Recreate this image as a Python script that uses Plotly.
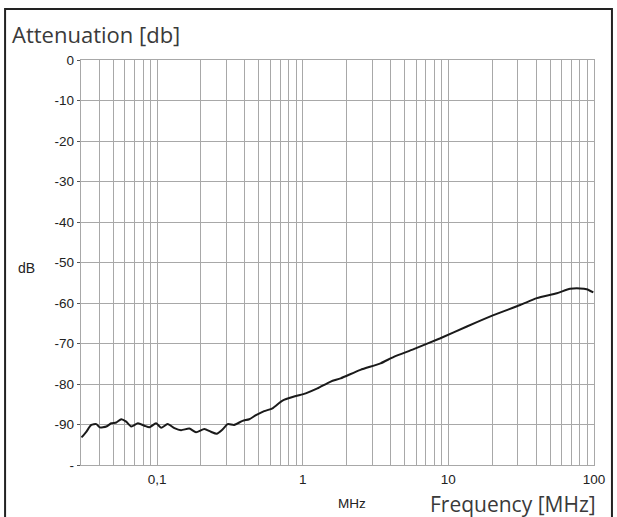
import plotly.graph_objects as go
import math

# Curve readings (frequency in MHz, attenuation in dB)
freq_mhz = [0.0302, 0.0326, 0.0353, 0.0382, 0.0403, 0.0448, 0.0484, 0.0524, 0.0567, 0.0613,
            0.0664, 0.0738, 0.0818, 0.0885, 0.0984, 0.1065, 0.118, 0.1314, 0.146, 0.1664,
            0.185, 0.211, 0.234, 0.2564, 0.282, 0.305, 0.338, 0.386, 0.429, 0.477,
            0.543, 0.620, 0.726, 0.872, 1.048, 1.261, 1.555, 1.82, 2.49, 3.42,
            4.22, 5.78, 8.81, 13.4, 20.4, 31.1, 40.5, 55.6, 68.5, 80.2, 89.1, 98.9]
atten_db = [-93.2, -91.8, -90.1, -89.9, -90.7, -90.5, -89.7, -89.5, -88.7, -89.3,
            -90.5, -89.7, -90.3, -90.7, -89.7, -90.8, -89.9, -90.9, -91.4, -91.0,
            -91.9, -91.1, -91.8, -92.3, -91.2, -89.9, -90.1, -89.1, -88.7, -87.7,
            -86.7, -86.0, -84.1, -83.1, -82.3, -81.1, -79.4, -78.6, -76.5, -74.9,
            -73.3, -71.4, -68.7, -65.8, -63.0, -60.5, -58.8, -57.6, -56.5, -56.4, -56.6, -57.4]

x_grid = [0.04, 0.05, 0.06, 0.07, 0.08, 0.09, 0.1, 0.2, 0.3, 0.4, 0.5, 0.6, 0.7, 0.8, 0.9,
          1, 2, 3, 4, 5, 6, 7, 8, 9, 10, 20, 30, 40, 50, 60, 70, 80, 90, 100]
x_labels = {0.1: "0,1", 1: "1", 10: "10", 100: "100"}
y_ticks = [0, -10, -20, -30, -40, -50, -60, -70, -80, -90, -100]
y_labels = ["0", "-10", "-20", "-30", "-40", "-50", "-60", "-70", "-80", "-90", "-"]

fig = go.Figure()
fig.add_trace(go.Scatter(x=freq_mhz, y=atten_db, mode="lines",
                         line=dict(color="#1a1a1a", width=2, shape="spline", smoothing=0.6),
                         showlegend=False, hoverinfo="skip"))

grid_col = "#a8a8a8"
tick_font = dict(family="Liberation Sans", size=13.5, color="#222")
fig.update_xaxes(type="log", range=[math.log10(0.03), 2],
                 tickvals=x_grid, ticktext=[x_labels.get(v, "") for v in x_grid],
                 showgrid=True, gridcolor=grid_col, gridwidth=1.4,
                 showline=True, linecolor=grid_col, linewidth=1.4, mirror=True,
                 ticks="", zeroline=False, ticklabelstandoff=2,
                 tickfont=tick_font)
fig.update_yaxes(range=[-100, 0], tickvals=y_ticks, ticktext=y_labels,
                 showgrid=True, gridcolor=grid_col, gridwidth=1.4,
                 showline=True, linecolor=grid_col, linewidth=1.4, mirror=True,
                 ticks="outside", ticklen=3, tickcolor="#555", tickwidth=1,
                 zeroline=False,
                 tickfont=tick_font)

fig.update_layout(
    width=617, height=517,
    margin=dict(l=81, r=23, t=60, b=52),
    plot_bgcolor="white", paper_bgcolor="white",
    shapes=[dict(type="rect", xref="paper", yref="paper",
                 x0=-0.148, x1=1.035, y0=-0.25, y1=1.126,
                 line=dict(color="#222", width=2), layer="above")],
    annotations=[
        dict(text="Attenuation [db]", xref="paper", yref="paper", x=-0.139, y=1.064,
             xanchor="left", yanchor="middle", showarrow=False,
             font=dict(family="Open Sans", size=22, color="#3a3a3a")),
        dict(text="Frequency [MHz]", xref="paper", yref="paper", x=1.008, y=-0.097,
             xanchor="right", yanchor="middle", showarrow=False,
             font=dict(family="Open Sans", size=21, color="#3a3a3a")),
        dict(text="MHz", xref="paper", yref="paper", x=0.528, y=-0.094,
             xanchor="center", yanchor="middle", showarrow=False,
             font=dict(family="Liberation Sans", size=13.5, color="#222")),
        dict(text="dB", xref="paper", yref="paper", x=-0.107, y=0.487,
             xanchor="center", yanchor="middle", showarrow=False,
             font=dict(family="Liberation Sans", size=14, color="#222")),
    ],
)

fig.write_html("out.html", config={"displayModeBar": False},
               post_script="document.body.style.margin='0';document.body.style.overflow='hidden';")
